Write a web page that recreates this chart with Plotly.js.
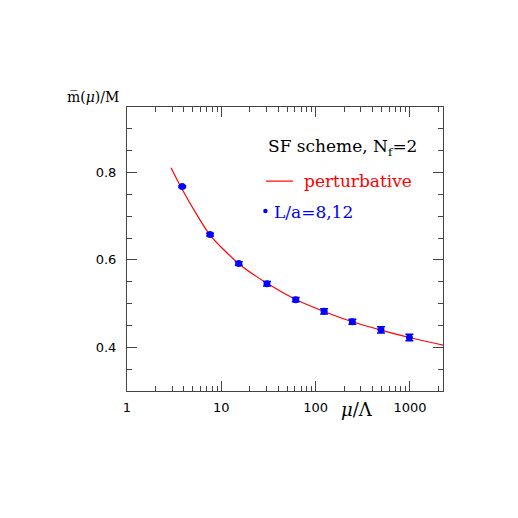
<!DOCTYPE html>
<html>
<head>
<meta charset="utf-8">
<script src="https://cdn.plot.ly/plotly-3.0.1.min.js"></script>
<style>
  html, body { margin: 0; padding: 0; background: #fff; }
  #chart { width: 518px; height: 518px; }
</style>
</head>
<body>
<div id="chart"></div>
<script>
// lattice points, L/a = 8,12
const muOverLambda = [3.85, 7.6, 15.3, 30.5, 61.5, 123, 245, 493, 986];
const mbarOverM = [0.768, 0.658, 0.592, 0.5455, 0.509, 0.4825, 0.4585, 0.440, 0.4225];
const mbarErr = [0.002, 0.003, 0.004, 0.005, 0.005, 0.006, 0.006, 0.007, 0.0075];

// perturbative curve
const pertMu = [2.93, 3.65, 5.7, 7.6, 15.1, 30.5, 61.5, 123, 245, 493, 986, 2240];
const pertM = [0.811, 0.7705, 0.698, 0.657, 0.5925, 0.5465, 0.5095, 0.482, 0.4585, 0.4395, 0.4225, 0.405];

const xTicks = [1, 10, 100, 1000];
const yTicks = [0.4, 0.6, 0.8];

const serif = "DejaVu Serif";
const sans = "DejaVu Sans";

const traces = [
  {
    x: pertMu,
    y: pertM,
    mode: "lines",
    type: "scatter",
    line: { color: "#ff0000", width: 1.2, shape: "spline", smoothing: 0.8 },
    hoverinfo: "skip",
  },
  {
    x: muOverLambda,
    y: mbarOverM,
    mode: "markers",
    type: "scatter",
    marker: { color: "#0000ff", size: 7 },
    error_y: {
      type: "data",
      array: mbarErr,
      visible: true,
      color: "#0000ff",
      thickness: 1.5,
      width: 4,
    },
  },
];

const layout = {
  width: 518,
  height: 518,
  margin: { l: 127, r: 75, t: 107, b: 127 },
  paper_bgcolor: "#fff",
  plot_bgcolor: "#fff",
  showlegend: false,
  xaxis: {
    type: "log",
    range: [0, Math.log10(2240)],
    tickvals: xTicks,
    ticktext: xTicks.map(String),
    ticks: "inside",
    ticklen: 10,
    tickcolor: "#444",
    showline: true,
    linecolor: "#444",
    linewidth: 1,
    mirror: "allticks",
    showgrid: false,
    zeroline: false,
    ticklabelstandoff: 4,
    tickfont: { family: sans, size: 13, color: "#000" },
    minor: { ticks: "inside", ticklen: 5, tickcolor: "#444", dtick: "D1", showgrid: false },
  },
  yaxis: {
    range: [0.3, 0.95],
    tickvals: yTicks,
    ticktext: yTicks.map((v) => v.toFixed(1)),
    ticks: "inside",
    ticklen: 10,
    tickcolor: "#444",
    showline: true,
    linecolor: "#444",
    linewidth: 1,
    mirror: "allticks",
    showgrid: false,
    zeroline: false,
    ticklabelstandoff: 7,
    tickfont: { family: sans, size: 13, color: "#000" },
    minor: { ticks: "inside", ticklen: 5, tickcolor: "#444", dtick: 0.05, tick0: 0, showgrid: false },
  },
  annotations: [
    {
      text: "m\u0305(<i>\u03bc</i>)/M",
      xref: "paper", yref: "paper",
      x: -0.018, y: 1.035, xanchor: "right", yanchor: "middle",
      showarrow: false,
      font: { family: serif, size: 14, color: "#000" },
    },
    {
      text: "<i>\u03bc</i>/\u039b",
      xref: "paper", yref: "paper",
      x: 0.728, y: -0.065, xanchor: "center", yanchor: "middle",
      showarrow: false,
      font: { family: serif, size: 18, color: "#000" },
    },
    {
      text: "SF scheme, N<sub>f</sub>=2",
      xref: "paper", yref: "paper",
      x: 0.44, y: 0.858, xanchor: "left", yanchor: "middle",
      showarrow: false,
      font: { family: serif, size: 17, color: "#000" },
    },
    {
      text: "perturbative",
      xref: "paper", yref: "paper",
      x: 0.554, y: 0.74, xanchor: "left", yanchor: "middle",
      showarrow: false,
      font: { family: serif, size: 17, color: "#ff0000" },
    },
    {
      text: "L/a=8,12",
      xref: "paper", yref: "paper",
      x: 0.459, y: 0.632, xanchor: "left", yanchor: "middle",
      showarrow: false,
      font: { family: serif, size: 17, color: "#0000ff" },
    },
  ],
  shapes: [
    {
      type: "line",
      xref: "paper", yref: "paper",
      x0: 0.44, x1: 0.525, y0: 0.739, y1: 0.739,
      line: { color: "#ff0000", width: 1.2 },
    },
    {
      type: "circle",
      xref: "paper", yref: "paper",
      x0: 0.431, x1: 0.445, y0: 0.626, y1: 0.642,
      fillcolor: "#0000ff",
      line: { color: "#0000ff", width: 0 },
    },
  ],
};

Plotly.newPlot("chart", traces, layout, { displayModeBar: false, staticPlot: true });
</script>
</body>
</html>
